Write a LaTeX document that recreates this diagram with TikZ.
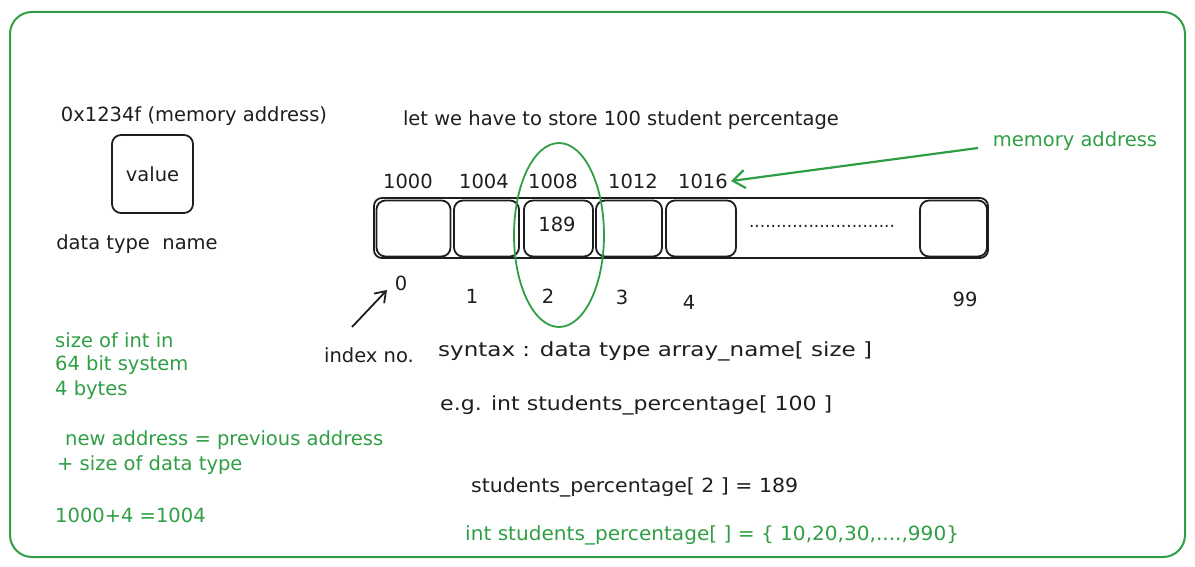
\documentclass[tikz,border=0pt]{standalone}
\usepackage{fontspec}
\setmainfont{DejaVu Sans}
\usetikzlibrary{arrows.meta}
\definecolor{exgreen}{HTML}{2F9E44}
\definecolor{exblack}{HTML}{1E1E1E}
\begin{document}
\begin{tikzpicture}[x=1pt,y=-1pt,
  txt/.style={inner sep=0pt,text=exblack,font=\fontsize{19.5}{22}\selectfont},
  gtxt/.style={txt,text=exgreen},
  ltxt/.style={txt,anchor=west},
  lgtxt/.style={gtxt,anchor=west},
  cellbox/.style={draw=exblack,line width=1.8pt,rounded corners=9pt},
  barbox/.style={draw=exblack,line width=1.8pt,rounded corners=8pt},
  garrow/.style={draw=exgreen,line width=2.2pt,-{Straight Barb[length=12pt,width=18pt,line width=2.2pt]}},
  barrow/.style={draw=exblack,line width=1.8pt,-{Straight Barb[length=10pt,width=14pt,line width=1.8pt]}}
]
\useasboundingbox (0,0) rectangle (1195,567);
% frame
\draw[exgreen,line width=2pt,rounded corners=22pt] (10,12) rectangle (1185,557);

% left variable illustration
\node[txt] (addr) at (194,116) {0x1234f (memory address)};
\node[cellbox,minimum width=81pt,minimum height=78pt] (valbox) at (152.5,174) {};
\node[txt] (val) at (valbox.center) {value};
\node[txt] (dtn) at (137,244) {data type\ \ name};

% title
\node[txt] (title) at (621,120) {let we have to store 100 student percentage};

% bar
\node[barbox,minimum width=614pt,minimum height=60pt] (bar) at (681,228) {};
\node[cellbox,minimum width=74pt,minimum height=56pt] (c0) at (413.5,228.5) {};
\node[cellbox,minimum width=65pt,minimum height=56pt] (c1) at (486.5,228.5) {};
\node[cellbox,minimum width=69pt,minimum height=56pt] (c2) at (558.5,228.5) {};
\node[cellbox,minimum width=66pt,minimum height=56pt] (c3) at (629,228.5) {};
\node[cellbox,minimum width=70pt,minimum height=56pt] (c4) at (701,228.5) {};
\node[cellbox,minimum width=67pt,minimum height=56pt] (c99) at (953.5,228.5) {};
\node[txt] (v2) at (557,224) {189};
\node[txt,font=\fontsize{17}{20}\selectfont] (dots) at (822,226) {...........................};

% addresses
\node[txt] (a0) at (408,181) {1000};
\node[txt] (a1) at (484,181) {1004};
\node[txt] (a2) at (553,181) {1008};
\node[txt] (a3) at (633,181) {1012};
\node[txt] (a4) at (703,181) {1016};

% indices
\node[txt] (i0) at (401,283) {0};
\node[txt] (i1) at (472,296) {1};
\node[txt] (i2) at (548,296) {2};
\node[txt] (i3) at (622,297) {3};
\node[txt] (i4) at (689,302) {4};
\node[txt] (i99) at (965,299) {99};

% highlight ellipse
\draw[exgreen,line width=1.8pt] (559,235) ellipse [x radius=45pt,y radius=92pt];

% memory address arrow
\node[gtxt] (mem) at (1075,141) {memory address};
\coordinate (memstart) at (978,148);
\draw[garrow] (memstart) -- ([xshift=3pt]a4.east);

% index arrow
\node[txt] (idx) at (369,355) {index no.};
\coordinate (idxstart) at (352,327);
\coordinate (idxend) at (387,290);
\draw[barrow] (idxstart) -- (idxend);

% syntax texts
\node[ltxt] (syn) at (438,351) {\scalebox{1.18}[1]{syntax : data type array\_name[ size ]}};
\node[ltxt] (eg) at (440,405) {\scalebox{1.13}[1]{e.g. int students\_percentage[ 100 ]}};
\node[ltxt] (asg) at (471,487) {\scalebox{1.05}[1]{students\_percentage[ 2 ] = 189}};
\node[lgtxt] (init) at (465,535) {\scalebox{1.03}[1]{int students\_percentage[ ] = \{ 10,20,30,....,990\}}};

% green notes
\node[lgtxt] (g1) at (55,340) {size of int in};
\node[lgtxt] (g2) at (55,365) {64 bit system};
\node[lgtxt] (g3) at (55,390) {4 bytes};
\node[lgtxt] (g4) at (65,440) {new address = previous address};
\node[lgtxt] (g5) at (57,465) {+ size of data type};
\node[lgtxt] (g6) at (55,515) {1000+4 =1004};
\end{tikzpicture}
\end{document}
